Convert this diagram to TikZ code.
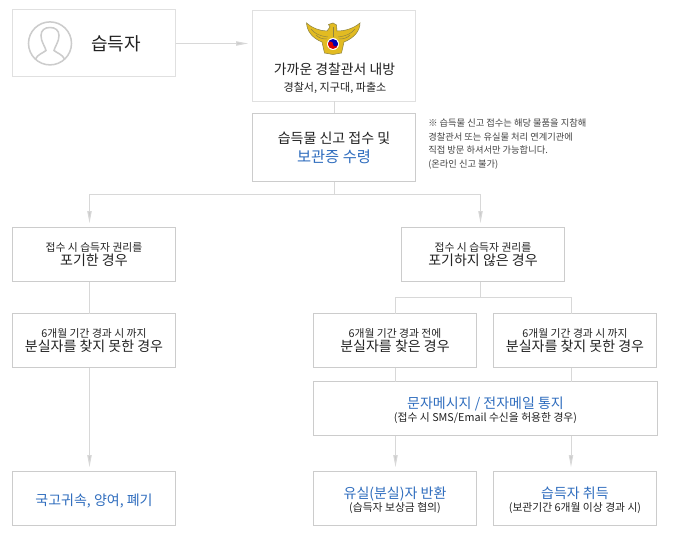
\documentclass[tikz,border=0pt]{standalone}
\usepackage{fontspec}
\setmainfont{Noto Sans CJK KR}
\usetikzlibrary{arrows.meta}
\definecolor{krline}{HTML}{D8D8D8}
\definecolor{krbox}{HTML}{CCCCCC}
\definecolor{krboxlt}{HTML}{E0E0E0}
\definecolor{krblue}{HTML}{2F6DBE}
\definecolor{krtext}{HTML}{222222}
\definecolor{krgold}{HTML}{E2BB22}
\definecolor{krgoldd}{HTML}{8F8440}
\newcommand{\subtxt}{\fontsize{8.1}{10}\selectfont}
\newcommand{\maintxt}{\fontsize{10.5}{10}\selectfont}
\newcommand{\bluetxt}[1]{\rule{0pt}{11.8pt}{\color{krblue}#1}}
\tikzset{
  flowbox/.style={draw=krbox, line width=0.75pt, fill=white, inner sep=0pt, outer sep=0pt,
    minimum width=122.25pt, minimum height=40.5pt, align=center, text=krtext,
    font=\maintxt},
  flowline/.style={krline, line width=0.75pt},
  flowarrow/.style={flowline, shorten >=3.3pt,
    -{Stealth[length=9pt,width=3.2pt,inset=0pt,fill=krbox]}},
}

\begin{document}
\begin{tikzpicture}[x=0.75pt, y=-0.75pt]
  \useasboundingbox (0,0) rectangle (686,542);

  % ---- Top row ----
  \node[flowbox, draw=krboxlt, minimum height=50.25pt] (finder) at (94,43) {};
  \node[flowbox, draw=krboxlt, minimum height=68.25pt] (police) at (334,56) {};
  \node[text=krtext, font=\fontsize{13.5}{14}\selectfont, inner sep=0pt] (findername) at (116,44) {습득자};
  \node[text=krtext, font=\fontsize{10.4}{12}\selectfont, inner sep=0pt] (policename) at (334.5,69.5) {가까운 경찰관서 내방};
  \node[text=krtext, font=\fontsize{8.3}{10}\selectfont, inner sep=0pt] (policesub) at (335,87.5) {경찰서, 지구대, 파출소};

  % person icon
  \draw[krbox, line width=1.15pt] (50,43.4) circle (21.5);
  \draw[krbox, line width=1.15pt]
    (35.5,59) .. controls (37.5,54.5) and (43,53) .. (46,50.5)
    .. controls (45,46) and (41,42) .. (41,35.5)
    .. controls (41,30) and (45,27.5) .. (50,27.5)
    .. controls (55,27.5) and (59,30) .. (59,35.5)
    .. controls (59,42) and (55,46) .. (54,50.5)
    .. controls (57,53) and (62.5,54.5) .. (64.5,59);

  % police emblem
  \fill[krgold, draw=krgoldd, line width=0.4pt]
    (306.5,23) .. controls (312,28) and (320,31) .. (327,31)
    -- (330,27) -- (328.5,24.5) -- (333,23) -- (336.5,25) -- (337,31)
    .. controls (346,31) and (354,28) .. (360,23)
    .. controls (360,31) and (354,38) .. (344,42)
    -- (341.5,53) -- (333,54.5) -- (324.5,53) -- (322,42)
    .. controls (312,38) and (307,31) .. (306.5,23) -- cycle;
  \draw[krgoldd, line width=0.35pt] (311,29) .. controls (315,34) and (320,36) .. (328,37);
  \draw[krgoldd, line width=0.35pt] (316,35) .. controls (319,38) and (322,39) .. (327,39);
  \draw[krgoldd, line width=0.35pt] (355,29) .. controls (351,34) and (346,36) .. (338,37);
  \draw[krgoldd, line width=0.35pt] (350,35) .. controls (347,38) and (344,39) .. (339,39);
  \draw[krgoldd, line width=0.35pt] (333,27) -- (333,37);
  \fill[white] (333,44) circle (6);
  \fill[red!85!black] (328,44) arc (180:0:5) -- cycle;
  \fill[blue!70!black] (328,44) arc (180:360:5) -- cycle;
  \fill[red!85!black] (330.5,44) circle (2.5);
  \fill[blue!70!black] (335.5,44) circle (2.5);

  % ---- Report box and its note ----
  \node[flowbox, minimum height=51pt] (report) at (334,147.5)
    {습득물 신고 접수 및\\[3pt]{\fontsize{11.5}{10}\selectfont\color{krblue}보관증 수령}};
  \node[anchor=north west, inner sep=0pt, align=left, text=krtext!85,
    font=\fontsize{6.95}{10.1}\selectfont] (note) at (428,119)
    {※ 습득물 신고 접수는 해당 물품을 지참해\\
     경찰관서 또는 유실물 처리 연계기관에\\
     직접 방문 하셔서만 가능합니다.\\
     (온라인 신고 불가)};

  % ---- Left column ----
  \node[flowbox] (giveup) at (94,254.5) {{\subtxt 접수 시 습득자 권리를}\\포기한 경우};
  \node[flowbox] (lostleft) at (94,340.5) {{\subtxt 6개월 기간 경과 시 까지}\\분실자를 찾지 못한 경우};
  \node[flowbox] (state) at (94,498.5) {\bluetxt{국고귀속, 양여, 폐기}};

  % ---- Right column ----
  \node[flowbox] (keep) at (483,254.5) {{\subtxt 접수 시 습득자 권리를}\\포기하지 않은 경우};
  \node[flowbox] (found) at (395,340.5) {{\subtxt 6개월 기간 경과 전에}\\분실자를 찾은 경우};
  \node[flowbox] (notfound) at (575,340.5) {{\subtxt 6개월 기간 경과 시 까지}\\분실자를 찾지 못한 경우};
  \node[flowbox, minimum width=258pt] (notify) at (485.5,408.5)
    {\bluetxt{문자메시지 / 전자메일 통지}\\{\subtxt (접수 시 SMS/Email 수신을 허용한 경우)}};
  \node[flowbox] (giveback) at (395,498.5)
    {\bluetxt{유실(분실)자 반환}\\{\subtxt (습득자 보상금 협의)}};
  \node[flowbox] (acquire) at (575,498.5)
    {\bluetxt{습득자 취득}\\{\subtxt (보관기간 6개월 이상 경과 시)}};

  % ---- Fork points ----
  \coordinate (forktop) at (334,194.5);
  \coordinate (forkl) at (89.5,194.5);
  \coordinate (forkr) at (480.5,194.5);
  \coordinate (forkkeep) at (480.5,297.5);
  \coordinate (forkfound) at (395.5,297.5);
  \coordinate (forknot) at (571,297.5);
  \coordinate (finderout) at (175.5,43.5);

  % ---- Connectors ----
  \draw[flowarrow] (finderout) -- (finderout -| police.west);
  \draw[flowline] (police.south) -- (report.north);
  \draw[flowline] (report.south) -- (forktop);
  \draw[flowarrow] (forktop) -- (forkl) -- (forkl |- giveup.north);
  \draw[flowarrow] (forktop) -- (forkr) -- (forkr |- keep.north);
  \draw[flowline] (forkl |- giveup.south) -- (forkl |- lostleft.north);
  \draw[flowarrow] (forkl |- lostleft.south) -- (forkl |- state.north);
  \draw[flowline] (forkr |- keep.south) -- (forkkeep);
  \draw[flowline] (forkfound |- found.north) -- (forkfound) -- (forknot) -- (forknot |- notfound.north);
  \draw[flowline] (forkfound |- found.south) -- (forkfound |- notify.north);
  \draw[flowline] (forknot |- notfound.south) -- (forknot |- notify.north);
  \draw[flowarrow] (forkfound |- notify.south) -- (forkfound |- giveback.north);
  \draw[flowarrow] (forknot |- notify.south) -- (forknot |- acquire.north);

\end{tikzpicture}
\end{document}
